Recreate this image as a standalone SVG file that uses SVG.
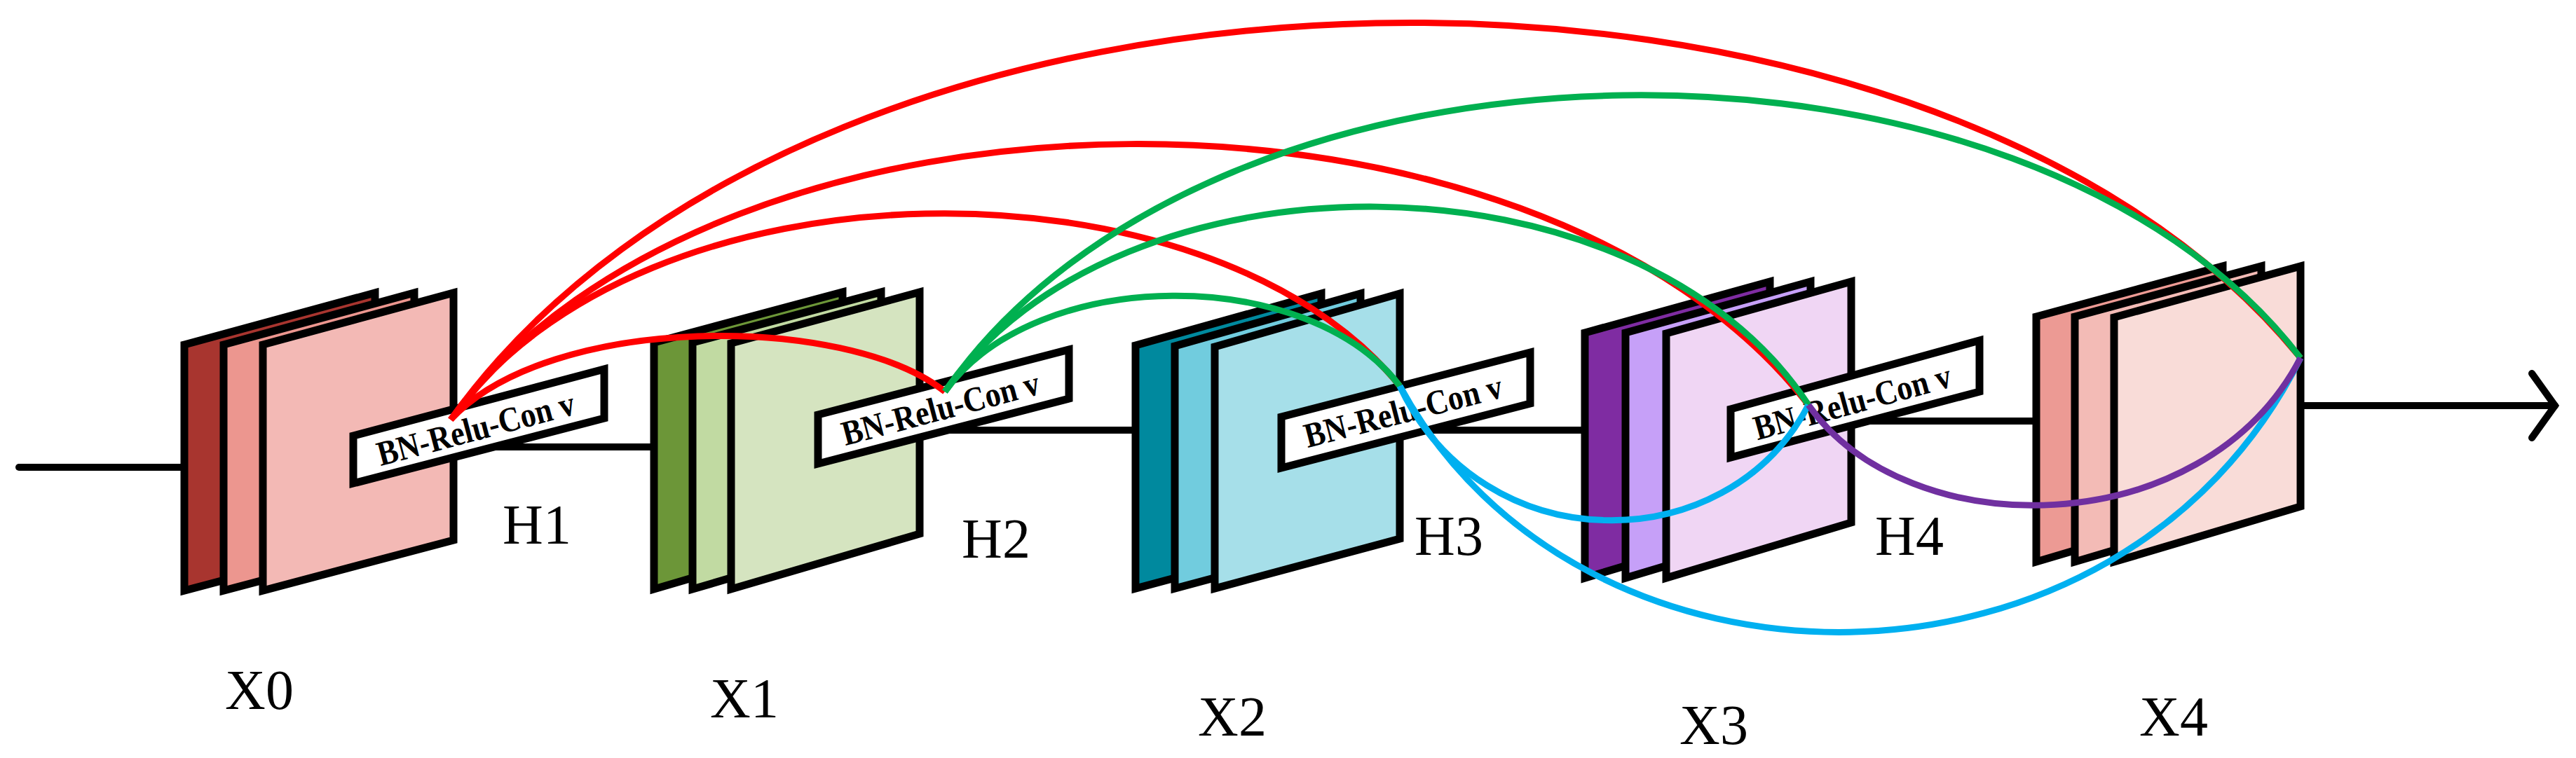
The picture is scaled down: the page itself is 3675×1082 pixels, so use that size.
<svg xmlns="http://www.w3.org/2000/svg" width="3675" height="1082" viewBox="0 0 3675 1082">
<style>
.sh{stroke:#000;stroke-width:11;stroke-linejoin:miter}
.ln{stroke:#000;stroke-width:10;fill:none;stroke-linecap:round}
.bx{fill:#fff;stroke:#000;stroke-width:11}
.bt{font-family:"Liberation Serif",serif;font-weight:bold;font-size:50px;text-anchor:middle}
.lb{font-family:"Liberation Serif",serif;font-size:80px;text-anchor:middle}
.c{fill:none;stroke-width:9}
</style>
<rect width="3675" height="1082" fill="#fff"/>
<g id="lines">
<line class="ln" x1="27" y1="667" x2="263" y2="667"/>
<line class="ln" x1="687" y1="638" x2="933" y2="638"/>
<line class="ln" x1="1312" y1="614" x2="1620" y2="614"/>
<line class="ln" x1="1997" y1="614" x2="2261" y2="614"/>
<line class="ln" x1="2641" y1="601" x2="2905" y2="601"/>
<line class="ln" x1="3282" y1="579" x2="3645" y2="579"/>
<polyline class="ln" points="3612,533 3645,579 3612,625"/>
</g>
<g id="X0">
<polygon class="sh" fill="#A8352F" points="263,492 535,418 535,771 263,843"/>
<polygon class="sh" fill="#EC968F" points="319,492 591,418 591,771 319,843"/>
<polygon class="sh" fill="#F3B9B5" points="375,492 647,418 647,771 375,843"/>
<polygon class="bx" points="504,622 862,527 862,597 504,690"/>
<text class="bt" transform="translate(683,628) rotate(-14.9)" textLength="290" lengthAdjust="spacingAndGlyphs">BN-Relu-Con v</text>
<text class="lb" x="766" y="776">H1</text>
<text class="lb" x="370" y="1012">X0</text>
</g>
<g id="X1">
<polygon class="sh" fill="#6C9638" points="933,489 1202,417 1202,762 933,841"/>
<polygon class="sh" fill="#C1DAA2" points="988,489 1257,417 1257,762 988,841"/>
<polygon class="sh" fill="#D5E4C0" points="1043,490 1312,417 1312,762 1043,841"/>
<polygon class="bx" points="1167,592 1525,499 1525,569 1167,662"/>
<text class="bt" transform="translate(1346,599) rotate(-14.9)" textLength="290" lengthAdjust="spacingAndGlyphs">BN-Relu-Con v</text>
<text class="lb" x="1421" y="796">H2</text>
<text class="lb" x="1062" y="1024">X1</text>
</g>
<g id="X2">
<polygon class="sh" fill="#00899E" points="1620,493 1885,419 1885,769 1620,840"/>
<polygon class="sh" fill="#71CCDE" points="1676,494 1941,419 1941,769 1676,840"/>
<polygon class="sh" fill="#A6DFE9" points="1733,495 1997,419 1997,769 1733,840"/>
<polygon class="bx" points="1828,595 2183,503 2183,576 1828,668"/>
<text class="bt" transform="translate(2006,603) rotate(-14.5)" textLength="290" lengthAdjust="spacingAndGlyphs">BN-Relu-Con v</text>
<text class="lb" x="2067" y="792">H3</text>
<text class="lb" x="1758" y="1050">X2</text>
</g>
<g id="X3">
<polygon class="sh" fill="#7F2CA2" points="2261,475 2525,402 2525,746 2261,825"/>
<polygon class="sh" fill="#C6A0F8" points="2319,475 2583,402 2583,746 2319,825"/>
<polygon class="sh" fill="#F0D6F4" points="2377,476 2641,402 2641,746 2377,825"/>
<polygon class="bx" points="2469,584 2824,486 2824,559 2469,653"/>
<text class="bt" transform="translate(2647,590) rotate(-15.4)" textLength="290" lengthAdjust="spacingAndGlyphs">BN-Relu-Con v</text>
<text class="lb" x="2724" y="792">H4</text>
<text class="lb" x="2445" y="1062">X3</text>
</g>
<g id="X4">
<polygon class="sh" fill="#EC9A94" points="2905,452 3171,380 3171,723 2905,802"/>
<polygon class="sh" fill="#F3BBB6" points="2960,452 3226,380 3226,723 2960,802"/>
<polygon class="sh" fill="#F9DCD8" points="3016,453 3282,380 3282,723 3016,802"/>
<text class="lb" x="3101" y="1050">X4</text>
</g>
<g id="connectors">
<path class="c" stroke="#FF0000" d="M643,599 C1171,-141 2754,-141 3282,511"/>
<path class="c" stroke="#FF0000" d="M643,599 C1030,78 2193,78 2580,578"/>
<path class="c" stroke="#FF0000" d="M643,599 C914,215 1726,215 1997,551"/>
<path class="c" stroke="#FF0000" d="M643,599 C784,447 1207,447 1348,559"/>
<path class="c" stroke="#00B050" d="M1348,559 C1478,378 1867,378 1997,551"/>
<path class="c" stroke="#00B050" d="M1348,559 C1594,204 2334,204 2580,578"/>
<path class="c" stroke="#00B050" d="M1348,559 C1735,3 2895,3 3282,511"/>
<path class="c" stroke="#00B0F0" d="M1997,551 C2114,802 2463,802 2580,578"/>
<path class="c" stroke="#00B0F0" d="M1997,551 C2254,1026 3025,1026 3282,511"/>
<path class="c" stroke="#7030A0" d="M2580,578 C2720,779 3142,779 3282,511"/>
</g>
</svg>
